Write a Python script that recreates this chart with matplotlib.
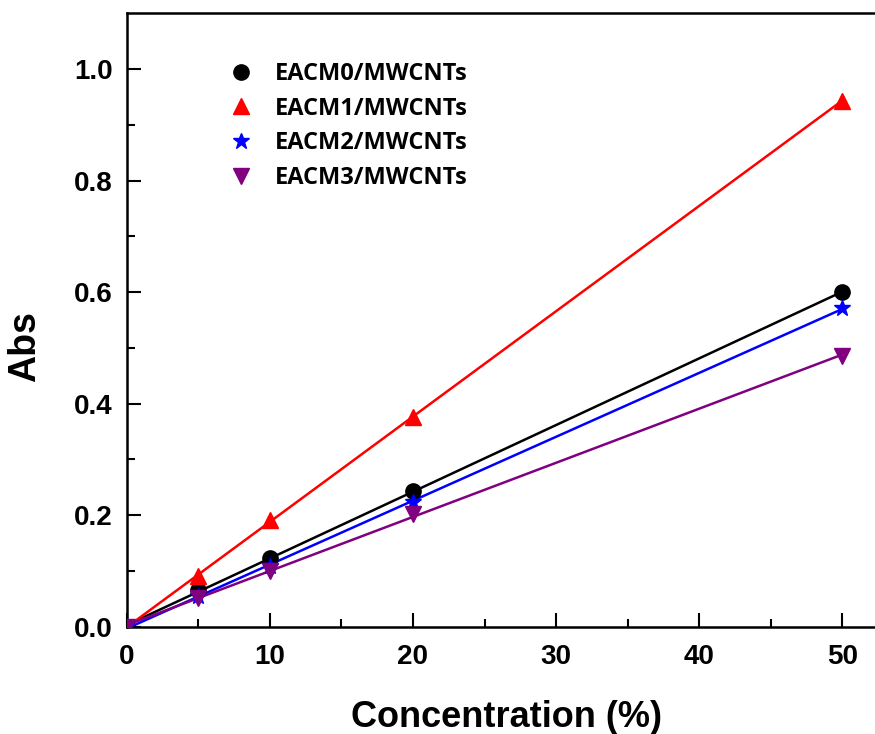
import numpy as np
import matplotlib.pyplot as plt

conc = [0, 5, 10, 20, 50]
eacm0 = [0.0, 0.066, 0.123, 0.243, 0.600]
eacm1 = [0.0, 0.091, 0.191, 0.377, 0.943]
eacm2 = [0.0, 0.055, 0.109, 0.224, 0.571]
eacm3 = [0.0, 0.052, 0.100, 0.202, 0.486]

labels = ["EACM0/MWCNTs", "EACM1/MWCNTs", "EACM2/MWCNTs", "EACM3/MWCNTs"]
colors = ["black", "#ff0000", "#0000ff", "#800080"]
markers = ["o", "^", "*", "v"]
sizes = [11, 12, 12, 12]

plt.rcParams["font.family"] = ["Liberation Sans", "DejaVu Sans"]

fig = plt.figure(figsize=(8.75, 7.34), dpi=100)
ax = fig.add_axes([0.145, 0.146, 0.86, 0.836])

x_fit = np.array([0, 50])
for y, lab, c, m, s in zip([eacm0, eacm1, eacm2, eacm3], labels, colors, markers, sizes):
    k, b = np.polyfit(conc, y, 1)
    ax.plot(x_fit, k * x_fit + b, color=c, lw=1.8, zorder=2)
    ax.plot(conc, y, ls="none", marker=m, ms=s, color=c, label=lab, zorder=3)

ax.set_xlim(0, 52.6)
ax.set_ylim(0, 1.1)
ax.set_xticks([0, 10, 20, 30, 40, 50])
ax.set_xticks([5, 15, 25, 35, 45], minor=True)
ax.set_yticks([0.0, 0.2, 0.4, 0.6, 0.8, 1.0])
ax.set_yticks([0.1, 0.3, 0.5, 0.7, 0.9], minor=True)
ax.set_yticklabels(["0.0", "0.2", "0.4", "0.6", "0.8", "1.0"])

ax.tick_params(which="both", direction="in", width=1.5, labelsize=20)
ax.tick_params(axis="x", pad=12)
ax.tick_params(axis="y", pad=10)
ax.tick_params(which="major", length=10)
ax.tick_params(which="minor", length=6)
for lbl in ax.get_xticklabels() + ax.get_yticklabels():
    lbl.set_fontweight("bold")
for sp in ax.spines.values():
    sp.set_linewidth(1.8)

ax.set_xlabel("Concentration (%)", fontsize=26, fontweight="bold")
ax.set_ylabel("Abs", fontsize=27, fontweight="bold")
ax.xaxis.set_label_coords(0.505, -0.12)
ax.yaxis.set_label_coords(-0.112, 0.456)

leg = ax.legend(loc="upper left", bbox_to_anchor=(0.1, 0.955), frameon=False,
                handletextpad=0.7, labelspacing=0.45, handlelength=1.5,
                prop={"family": ["Open Sans", "DejaVu Sans"], "weight": "bold", "size": 17})

fig.savefig("out.png", dpi=100)
